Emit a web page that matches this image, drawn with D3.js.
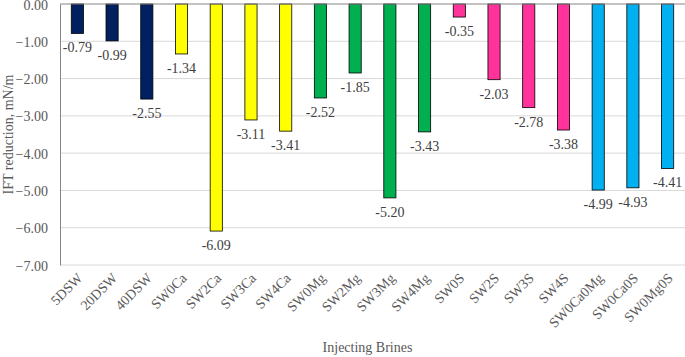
<!DOCTYPE html>
<html lang="en">
<head>
  <meta charset="UTF-8" />
  <title>IFT reduction by injecting brine</title>
  <style>
    body { margin: 0; background: #fff; }
    svg { display: block; }
    svg text { font-family: "Liberation Serif", "Times New Roman", serif; }
  </style>
</head>
<body>
  <svg id="chart" width="685" height="357"></svg>
  <script src="https://d3js.org/d3.v7.min.js"></script>
  <script>
    const brines = ["5DSW", "20DSW", "40DSW", "SW0Ca", "SW2Ca", "SW3Ca", "SW4Ca", "SW0Mg", "SW2Mg",
      "SW3Mg", "SW4Mg", "SW0S", "SW2S", "SW3S", "SW4S", "SW0Ca0Mg", "SW0Ca0S", "SW0Mg0S"];
    const iftReduction = [-0.79, -0.99, -2.55, -1.34, -6.09, -3.11, -3.41, -2.52, -1.85,
      -5.20, -3.43, -0.35, -2.03, -2.78, -3.38, -4.99, -4.93, -4.41];
    const groups = ["DSW", "DSW", "DSW", "Ca", "Ca", "Ca", "Ca", "Mg", "Mg",
      "Mg", "Mg", "S", "S", "S", "S", "Mix", "Mix", "Mix"];
    const yTicks = [0, -1, -2, -3, -4, -5, -6, -7];

    const colors = { DSW: "#002060", Ca: "#ffff00", Mg: "#00b050", S: "#ff3399", Mix: "#00b0f0" };

    const margin = { top: 4, right: 0, bottom: 92, left: 60 };
    const width = 685 - margin.left - margin.right;
    const height = 265 - margin.top;
    const fs = 14;

    const svg = d3.select("#chart");
    const g = svg.append("g").attr("transform", `translate(${margin.left},${margin.top})`);

    const x = d3.scaleBand().domain(brines).range([0, width]).paddingInner(0.65).paddingOuter(0.325);
    const y = d3.scaleLinear().domain([-7, 0]).range([height, 0]);

    // gridlines
    g.append("g")
      .selectAll("line")
      .data(yTicks.filter(d => d !== 0))
      .join("line")
      .attr("x1", 0).attr("x2", width)
      .attr("y1", d => y(d)).attr("y2", d => y(d))
      .attr("stroke", "#d9d9d9").attr("stroke-width", 1);

    // y axis
    const yAxis = g.append("g")
      .call(d3.axisLeft(y).tickValues(yTicks).tickFormat(d3.format(".2f")).tickSize(0).tickPadding(12));
    yAxis.attr("font-family", null).attr("font-size", null);
    yAxis.select(".domain").attr("stroke", "#868686");
    yAxis.selectAll("text").attr("font-size", fs).attr("fill", "#595959").attr("dy", "0.36em");

    // bars
    g.selectAll("rect.bar")
      .data(brines)
      .join("rect")
      .attr("class", "bar")
      .attr("x", d => x(d))
      .attr("width", x.bandwidth())
      .attr("y", y(0))
      .attr("height", (d, i) => y(iftReduction[i]) - y(0))
      .attr("fill", (d, i) => colors[groups[i]])
      .attr("stroke", "#000")
      .attr("stroke-width", 0.8);

    // value labels
    g.selectAll("text.val")
      .data(brines)
      .join("text")
      .attr("class", "val")
      .attr("x", d => x(d) + x.bandwidth() / 2)
      .attr("y", (d, i) => y(iftReduction[i]) + 19)
      .attr("text-anchor", "middle")
      .attr("font-size", fs)
      .attr("fill", "#404040")
      .text((d, i) => iftReduction[i].toFixed(2));

    // x axis at zero (top)
    g.append("line")
      .attr("x1", 0).attr("x2", width)
      .attr("y1", y(0)).attr("y2", y(0))
      .attr("stroke", "#868686");

    // category labels along the bottom
    const xAxis = g.append("g")
      .attr("transform", `translate(0,${height})`)
      .call(d3.axisBottom(x).tickSize(0).tickPadding(0));
    xAxis.attr("font-family", null).attr("font-size", null);
    xAxis.select(".domain").remove();
    xAxis.selectAll("text")
      .attr("font-size", fs)
      .attr("fill", "#595959")
      .attr("text-anchor", "end")
      .attr("dy", 0)
      .attr("transform", "translate(6,14) rotate(-45)");

    // axis titles
    svg.append("text")
      .attr("x", margin.left + width / 2 - 5)
      .attr("y", 352)
      .attr("text-anchor", "middle")
      .attr("font-size", fs)
      .attr("fill", "#595959")
      .text("Injecting Brines");

    svg.append("text")
      .attr("transform", `translate(13,${margin.top + height / 2}) rotate(-90)`)
      .attr("text-anchor", "middle")
      .attr("font-size", fs)
      .attr("fill", "#595959")
      .text("IFT reduction, mN/m");
  </script>
</body>
</html>
